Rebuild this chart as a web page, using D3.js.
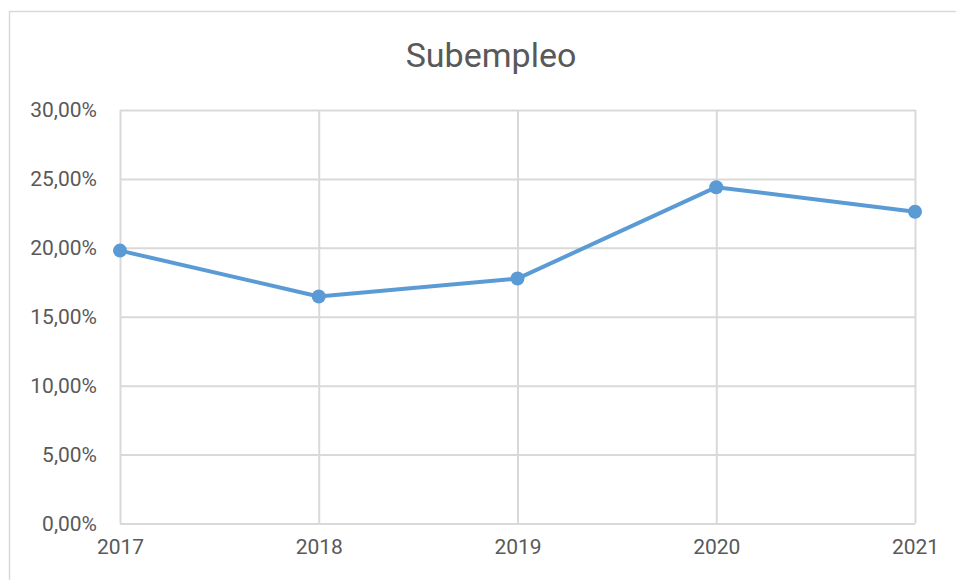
<!DOCTYPE html>
<html>
<head>
<meta charset="utf-8">
<script src="https://cdn.jsdelivr.net/npm/d3@7"></script>
<style>
  body { margin: 0; background: #fff; }
  text { font-family: Roboto, "Liberation Sans", sans-serif; fill: #595959; }
</style>
</head>
<body>
<div id="chart"></div>
<script>
// data
const years = ["2017", "2018", "2019", "2020", "2021"]
const subempleo = [19.8, 16.47, 17.77, 24.4, 22.62]
const yTicks = [0, 5, 10, 15, 20, 25, 30]

const WIDTH = 956
const HEIGHT = 580
const margin = { top: 110, right: 41, bottom: 56.5, left: 120 }
const innerW = WIDTH - margin.left - margin.right
const innerH = HEIGHT - margin.top - margin.bottom

const svg = d3.select("#chart")
  .append("svg")
  .attr("width", WIDTH)
  .attr("height", HEIGHT)

// outer chart border (runs off the right and bottom edges)
svg.append("rect")
  .attr("x", 9.5)
  .attr("y", 11.5)
  .attr("width", 960)
  .attr("height", 600)
  .attr("fill", "none")
  .attr("stroke", "#d9d9d9")
  .attr("stroke-width", 1.5)

svg.append("text")
  .attr("x", 491)
  .attr("y", 67)
  .attr("text-anchor", "middle")
  .style("font-size", "34px")
  .text("Subempleo")

const g = svg.append("g")
  .attr("transform", `translate(${margin.left},${margin.top})`)

const x = d3.scalePoint()
  .domain(years)
  .range([0, innerW])

const y = d3.scaleLinear()
  .domain([0, 30])
  .range([innerH, 0])

// horizontal gridlines + y labels
const yAxis = d3.axisLeft(y)
  .tickValues(yTicks)
  .tickSize(-innerW)
  .tickPadding(23)
  .tickFormat(d => d3.format(".2f")(d).replace(".", ",") + "%")

g.append("g")
  .call(yAxis)
  .call(a => a.select(".domain").remove())
  .call(a => a.selectAll("line").attr("stroke", "#d9d9d9").attr("stroke-width", 2))
  .call(a => a.selectAll("text").style("font-size", "21px").attr("fill", "#595959"))

// vertical gridlines + x labels
const xAxis = d3.axisBottom(x)
  .tickSize(-innerH)
  .tickPadding(16)

g.append("g")
  .attr("transform", `translate(0,${innerH})`)
  .call(xAxis)
  .call(a => a.select(".domain").remove())
  .call(a => a.selectAll("line").attr("stroke", "#d9d9d9").attr("stroke-width", 2))
  .call(a => a.selectAll("text").style("font-size", "21px").attr("fill", "#595959"))

const data = years.map((yr, i) => ({ year: yr, value: subempleo[i] }))

const line = d3.line()
  .x(d => x(d.year))
  .y(d => y(d.value))

g.append("path")
  .datum(data)
  .attr("d", line)
  .attr("fill", "none")
  .attr("stroke", "#5b9bd5")
  .attr("stroke-width", 4)
  .attr("stroke-linejoin", "round")

g.selectAll("circle")
  .data(data)
  .enter().append("circle")
  .attr("cx", d => x(d.year))
  .attr("cy", d => y(d.value))
  .attr("r", 7)
  .attr("fill", "#5b9bd5")
</script>
</body>
</html>
